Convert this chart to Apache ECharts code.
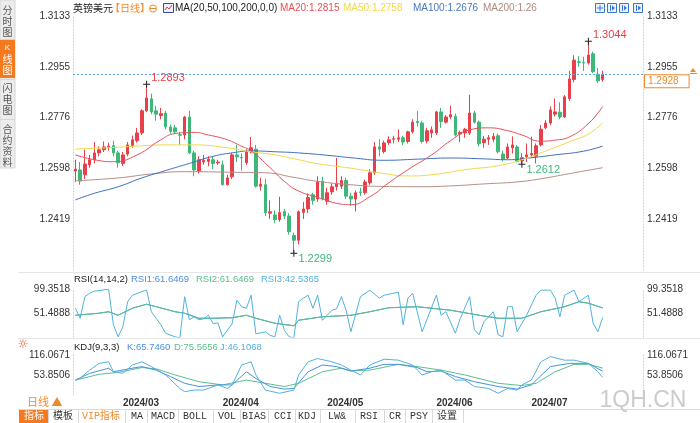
<!DOCTYPE html>
<html>
<head>
<meta charset="utf-8">
<title>英镑美元 日线</title>
<script src="https://cdn.jsdelivr.net/npm/echarts@6.0.0/dist/echarts.min.js"></script>
<style>
  html, body { margin: 0; padding: 0; background: #fff; }
  #main { width: 700px; height: 423px; }
</style>
</head>
<body>
<div id="main"></div>
<script>
// ===== 数据 =====
var dates = [
  '2024/02/16', '2024/02/19', '2024/02/20', '2024/02/21', '2024/02/22', '2024/02/23', '2024/02/26', '2024/02/27', '2024/02/28', '2024/02/29',
  '2024/03/01', '2024/03/04', '2024/03/05', '2024/03/06', '2024/03/07', '2024/03/08', '2024/03/11', '2024/03/12', '2024/03/13', '2024/03/14',
  '2024/03/15', '2024/03/18', '2024/03/19', '2024/03/20', '2024/03/21', '2024/03/22', '2024/03/25', '2024/03/26', '2024/03/27', '2024/03/28',
  '2024/03/29', '2024/04/01', '2024/04/02', '2024/04/03', '2024/04/04', '2024/04/05', '2024/04/08', '2024/04/09', '2024/04/10', '2024/04/11',
  '2024/04/12', '2024/04/15', '2024/04/16', '2024/04/17', '2024/04/18', '2024/04/19', '2024/04/22', '2024/04/23', '2024/04/24', '2024/04/25',
  '2024/04/26', '2024/04/29', '2024/04/30', '2024/05/01', '2024/05/02', '2024/05/03', '2024/05/06', '2024/05/07', '2024/05/08', '2024/05/09',
  '2024/05/10', '2024/05/13', '2024/05/14', '2024/05/15', '2024/05/16', '2024/05/17', '2024/05/20', '2024/05/21', '2024/05/22', '2024/05/23',
  '2024/05/24', '2024/05/27', '2024/05/28', '2024/05/29', '2024/05/30', '2024/05/31', '2024/06/03', '2024/06/04', '2024/06/05', '2024/06/06',
  '2024/06/07', '2024/06/10', '2024/06/11', '2024/06/12', '2024/06/13', '2024/06/14', '2024/06/17', '2024/06/18', '2024/06/19', '2024/06/20',
  '2024/06/21', '2024/06/24', '2024/06/25', '2024/06/26', '2024/06/27', '2024/06/28', '2024/07/01', '2024/07/02', '2024/07/03', '2024/07/04',
  '2024/07/05', '2024/07/08', '2024/07/09', '2024/07/10', '2024/07/11', '2024/07/12', '2024/07/15', '2024/07/16', '2024/07/17', '2024/07/18',
  '2024/07/19', '2024/07/22'
];
// 右侧留白
var padSlots = ['p1', 'p2', 'p3', 'p4', 'p5', 'p6', 'p7', 'p8'];
var monthStarts = ['2024/03/01', '2024/04/01', '2024/05/01', '2024/06/03', '2024/07/01'];

// [开, 收, 低, 高]
var ohlc = [
  [1.2588, 1.2595, 1.2550, 1.2628], [1.2592, 1.2553, 1.2540, 1.2620], [1.2575, 1.2613, 1.2560, 1.2663], [1.2610, 1.2628, 1.2600, 1.2645],
  [1.2628, 1.2652, 1.2615, 1.2690], [1.2652, 1.2663, 1.2640, 1.2675], [1.2663, 1.2673, 1.2655, 1.2692], [1.2672, 1.2675, 1.2660, 1.2688],
  [1.2677, 1.2652, 1.2640, 1.2695], [1.2652, 1.2617, 1.2600, 1.2660], [1.2615, 1.2645, 1.2605, 1.2655], [1.2648, 1.2680, 1.2640, 1.2690],
  [1.2678, 1.2698, 1.2670, 1.2713], [1.2695, 1.2722, 1.2688, 1.2740], [1.2722, 1.2800, 1.2715, 1.2805], [1.2800, 1.2845, 1.2795, 1.2893],
  [1.2842, 1.2796, 1.2788, 1.2860], [1.2800, 1.2788, 1.2765, 1.2818], [1.2783, 1.2790, 1.2770, 1.2810], [1.2792, 1.2743, 1.2735, 1.2800],
  [1.2743, 1.2728, 1.2720, 1.2752], [1.2740, 1.2726, 1.2718, 1.2750], [1.2716, 1.2714, 1.2680, 1.2726], [1.2715, 1.2778, 1.2700, 1.2782],
  [1.2778, 1.2652, 1.2648, 1.2800], [1.2652, 1.2592, 1.2570, 1.2660], [1.2588, 1.2628, 1.2580, 1.2640], [1.2620, 1.2626, 1.2610, 1.2645],
  [1.2622, 1.2630, 1.2605, 1.2640], [1.2628, 1.2615, 1.2595, 1.2640], [1.2617, 1.2620, 1.2610, 1.2628], [1.2610, 1.2540, 1.2538, 1.2625],
  [1.2540, 1.2564, 1.2538, 1.2575], [1.2568, 1.2645, 1.2560, 1.2652], [1.2645, 1.2638, 1.2620, 1.2680], [1.2636, 1.2634, 1.2590, 1.2650],
  [1.2617, 1.2655, 1.2610, 1.2665], [1.2655, 1.2670, 1.2650, 1.2708], [1.2665, 1.2535, 1.2530, 1.2680], [1.2535, 1.2542, 1.2520, 1.2565],
  [1.2540, 1.2442, 1.2430, 1.2560], [1.2440, 1.2445, 1.2420, 1.2485], [1.2434, 1.2418, 1.2405, 1.2450], [1.2418, 1.2442, 1.2410, 1.2498],
  [1.2446, 1.2430, 1.2420, 1.2455], [1.2430, 1.2375, 1.2365, 1.2440], [1.2362, 1.2345, 1.2299, 1.2372], [1.2345, 1.2445, 1.2330, 1.2450],
  [1.2443, 1.2455, 1.2420, 1.2480], [1.2455, 1.2495, 1.2440, 1.2510], [1.2505, 1.2485, 1.2470, 1.2512], [1.2490, 1.2550, 1.2480, 1.2570],
  [1.2552, 1.2490, 1.2485, 1.2568], [1.2482, 1.2512, 1.2470, 1.2530], [1.2515, 1.2533, 1.2505, 1.2545], [1.2533, 1.2545, 1.2520, 1.2634],
  [1.2535, 1.2555, 1.2525, 1.2570], [1.2555, 1.2500, 1.2490, 1.2565], [1.2500, 1.2490, 1.2465, 1.2512], [1.2490, 1.2512, 1.2446, 1.2520],
  [1.2515, 1.2513, 1.2500, 1.2530], [1.2512, 1.2550, 1.2505, 1.2558], [1.2547, 1.2582, 1.2540, 1.2595], [1.2582, 1.2673, 1.2575, 1.2690],
  [1.2673, 1.2665, 1.2640, 1.2700], [1.2657, 1.2687, 1.2650, 1.2695], [1.2688, 1.2698, 1.2680, 1.2710], [1.2700, 1.2702, 1.2685, 1.2712],
  [1.2700, 1.2705, 1.2690, 1.2735], [1.2705, 1.2690, 1.2680, 1.2712], [1.2692, 1.2726, 1.2685, 1.2730], [1.2726, 1.2760, 1.2720, 1.2770],
  [1.2762, 1.2758, 1.2745, 1.2800], [1.2757, 1.2692, 1.2685, 1.2765], [1.2694, 1.2730, 1.2685, 1.2740], [1.2722, 1.2733, 1.2705, 1.2745],
  [1.2722, 1.2796, 1.2715, 1.2800], [1.2796, 1.2762, 1.2740, 1.2810], [1.2760, 1.2778, 1.2755, 1.2785], [1.2778, 1.2786, 1.2770, 1.2818],
  [1.2780, 1.2715, 1.2710, 1.2790], [1.2718, 1.2724, 1.2690, 1.2730], [1.2722, 1.2735, 1.2705, 1.2740], [1.2722, 1.2792, 1.2715, 1.2856],
  [1.2792, 1.2760, 1.2755, 1.2800], [1.2760, 1.2684, 1.2675, 1.2765], [1.2688, 1.2700, 1.2670, 1.2712], [1.2700, 1.2705, 1.2680, 1.2715],
  [1.2700, 1.2710, 1.2690, 1.2722], [1.2712, 1.2656, 1.2650, 1.2720], [1.2648, 1.2630, 1.2622, 1.2660], [1.2634, 1.2673, 1.2630, 1.2685],
  [1.2670, 1.2680, 1.2650, 1.2710], [1.2673, 1.2622, 1.2618, 1.2680], [1.2624, 1.2635, 1.2612, 1.2650], [1.2638, 1.2645, 1.2620, 1.2685],
  [1.2645, 1.2650, 1.2635, 1.2709], [1.2640, 1.2677, 1.2615, 1.2685], [1.2680, 1.2735, 1.2675, 1.2750], [1.2740, 1.2757, 1.2735, 1.2767],
  [1.2757, 1.2803, 1.2750, 1.2815], [1.2788, 1.2796, 1.2780, 1.2843], [1.2795, 1.2778, 1.2770, 1.2830], [1.2778, 1.2849, 1.2775, 1.2855],
  [1.2843, 1.2912, 1.2835, 1.2940], [1.2910, 1.2978, 1.2900, 1.2995], [1.2972, 1.2970, 1.2955, 1.2992], [1.2970, 1.2968, 1.2940, 1.2990],
  [1.2968, 1.2996, 1.2962, 1.3044], [1.3000, 1.2937, 1.2932, 1.3008], [1.2928, 1.2905, 1.2898, 1.2950], [1.2910, 1.2928, 1.2902, 1.2941]
];

// 均线 [序号, 值]
var ma20 = [[0, 1.2645], [4, 1.2628], [8, 1.2621], [13, 1.2645], [18, 1.2698], [21, 1.2720], [25, 1.2724], [28, 1.2715], [32, 1.2698],
  [35, 1.2675], [37, 1.2659], [41, 1.2600], [44, 1.2552], [47, 1.2518], [51, 1.2496], [55, 1.2475], [58, 1.2470], [62, 1.2498],
  [66, 1.2547], [70, 1.2593], [75, 1.2645], [79, 1.2695], [83, 1.2733], [87, 1.2740], [91, 1.2730], [94, 1.2715], [98, 1.2693],
  [101, 1.2697], [104, 1.2708], [108, 1.2755], [111, 1.2815]];
var ma50 = [[0, 1.2666], [7, 1.2670], [14, 1.2677], [19, 1.2680], [25, 1.2680], [32, 1.2670], [37, 1.2656], [42, 1.2645], [47, 1.2628],
  [51, 1.2614], [56, 1.2603], [60, 1.2593], [64, 1.2582], [70, 1.2571], [75, 1.2575], [82, 1.2593], [89, 1.2607], [94, 1.2628],
  [98, 1.2652], [104, 1.2691], [108, 1.2718], [111, 1.2758]];
var ma100 = [[0, 1.2487], [4, 1.2510], [9, 1.2533], [14, 1.2564], [19, 1.2590], [24, 1.2615], [29, 1.2640], [33, 1.2652], [37, 1.2659],
  [42, 1.2656], [47, 1.2652], [54, 1.2642], [58, 1.2635], [65, 1.2626], [72, 1.2630], [79, 1.2634], [86, 1.2631], [91, 1.2628],
  [96, 1.2635], [101, 1.2645], [107, 1.2658], [111, 1.2676]];
var ma200 = [[0, 1.2554], [9, 1.2564], [16, 1.2578], [23, 1.2586], [33, 1.2584], [40, 1.2582], [46, 1.2566], [51, 1.2552], [58, 1.2540],
  [65, 1.2534], [72, 1.2533], [79, 1.2536], [86, 1.2543], [93, 1.2550], [98, 1.2561], [103, 1.2576], [107, 1.2588], [111, 1.2600]];

// RSI(14,14,2)
var rsi14 = [[0, 47], [5, 51], [7, 54], [9, 47], [12, 61], [15, 69], [17, 64], [21, 54], [23, 51], [26, 41], [29, 41], [33, 42],
  [36, 47], [38, 41], [42, 31], [46, 26], [47, 37], [52, 44], [58, 47], [62, 54], [66, 62], [72, 64], [79, 57], [85, 47], [89, 41],
  [94, 41], [98, 54], [103, 64], [106, 74], [108, 71], [111, 61.6469]];
var rsi2 = [[0, 61], [1, 41], [2, 84], [3, 91], [4, 95], [7, 99], [8, 28], [9, 4], [10, 24], [11, 74], [12, 87], [14, 94], [15, 97],
  [16, 54], [17, 41], [18, 28], [19, 11], [21, 4], [22, 2], [23, 84], [24, 38], [25, 44], [26, 38], [27, 40], [28, 47], [29, 30],
  [30, 32], [31, 4], [33, 30], [34, 77], [35, 64], [36, 61], [37, 87], [38, 10], [40, 14], [41, 7], [42, 4], [43, 47], [44, 17],
  [45, 4], [46, 2], [47, 74], [48, 81], [49, 87], [50, 61], [51, 87], [52, 37], [54, 57], [55, 60], [56, 84], [57, 57], [58, 14],
  [60, 84], [62, 97], [64, 81], [65, 87], [68, 93], [69, 28], [70, 81], [71, 91], [73, 14], [76, 87], [77, 47], [78, 54], [80, 11],
  [81, 40], [83, 84], [84, 18], [85, 8], [86, 34], [88, 54], [89, 8], [90, 4], [91, 64], [92, 64], [93, 14], [95, 47], [97, 87],
  [98, 97], [100, 97], [101, 81], [102, 44], [103, 87], [105, 97], [106, 74], [108, 87], [109, 31], [110, 14], [111, 42.5365]];

// KDJ(9,3,3)
var kdjK = [[0, 38], [3, 59], [7, 75], [8, 64], [12, 75], [14, 80], [17, 69], [20, 49], [23, 28], [26, 18], [30, 23], [33, 23],
  [36, 64], [38, 43], [41, 18], [44, 10], [46, 12], [49, 64], [52, 85], [55, 80], [58, 66], [62, 75], [65, 87], [68, 87], [72, 77],
  [74, 64], [77, 66], [80, 49], [84, 33], [89, 18], [93, 10], [96, 23], [100, 80], [104, 90], [108, 90], [111, 65.746]];
var kdjD = [[0, 38], [5, 56], [9, 62], [14, 77], [17, 73], [21, 54], [26, 33], [31, 23], [36, 38], [40, 28], [44, 18], [47, 28],
  [52, 64], [56, 75], [58, 67], [62, 69], [68, 87], [72, 80], [77, 69], [82, 54], [89, 28], [94, 21], [97, 28], [101, 64], [105, 87],
  [108, 87], [111, 75.5656]];
var kdjJ = [[0, 38], [1, 44], [3, 69], [5, 90], [7, 95], [8, 64], [10, 59], [12, 85], [14, 95], [16, 80], [19, 54], [22, 12], [23, 2],
  [25, 7], [27, 7], [30, 23], [32, 12], [33, 23], [35, 85], [37, 95], [38, 54], [40, 7], [43, -3], [46, 7], [47, 54], [49, 95],
  [51, 105], [54, 95], [56, 85], [58, 69], [60, 54], [62, 85], [65, 103], [68, 100], [71, 85], [73, 54], [75, 64], [77, 69], [80, 38],
  [82, 38], [84, 18], [87, 12], [89, -3], [91, 12], [93, 7], [94, 23], [96, 38], [98, 95], [100, 111], [103, 100], [105, 100],
  [108, 90], [110, 64], [111, 46.1068]];

// 坐标刻度
var priceTicks = ['', '1.2419', '1.2598', '1.2776', '1.2955', '1.3133'];
var rsiTicks = ['', '51.4888', '99.3518'];
var kdjTicks = ['', '53.8506', '116.0671'];
var lastPrice = 1.2928;
// 最高/最低点 [序号, 价格]
var extremes = [[15, 1.2893], [46, 1.2299], [94, 1.2612], [108, 1.3044]];

// ===== 样式 =====
var FONT = '"Liberation Sans", Arial, "Noto Sans CJK SC", sans-serif';
var MONO = '"Liberation Mono", "Noto Sans CJK SC", monospace';
var UP = '#e8404b', DOWN = '#3db878';
var C_MA20 = '#e8505a', C_MA50 = '#f2d84a', C_MA100 = '#3f6fbe', C_MA200 = '#b78d84';
var C_R1 = '#4a90e2', C_R2 = '#5cc08c', C_R3 = '#4fb2de';
var ORANGE = '#f0892b';

(function () {
  var myChart = echarts.init(document.getElementById('main'));
  var cats = dates.concat(padSlots);

  function txt(x, y, s, color, size, extra) {
    var style = { x: x, y: y, text: s, fill: color, fontSize: size || 10, fontFamily: FONT, verticalAlign: 'middle' };
    for (var k in extra) style[k] = extra[k];
    return { type: 'text', silent: true, z: 10, style: style };
  }
  function hline(x1, x2, y, color) {
    return { type: 'line', silent: true, shape: { x1: x1, y1: y + 0.5, x2: x2, y2: y + 0.5 }, style: { stroke: color, lineWidth: 1 } };
  }
  function vline(x, y1, y2, color) {
    return { type: 'line', silent: true, shape: { x1: x + 0.5, y1: y1, x2: x + 0.5, y2: y2 }, style: { stroke: color, lineWidth: 1 } };
  }

  function xAxisFor(gi, showLabel) {
    return {
      type: 'category', gridIndex: gi, data: cats, boundaryGap: true,
      axisLine: { show: false }, axisTick: { show: false }, splitLine: { show: false },
      axisLabel: {
        show: showLabel, margin: 3, align: 'left',
        color: '#333', fontSize: 10, fontWeight: 'bold', fontFamily: FONT,
        interval: function (index, value) { return monthStarts.indexOf(value) >= 0; },
        formatter: function (value) { return value.slice(0, 7); }
      }
    };
  }
  function yAxisFor(gi, pos, min, interval, count, ticks) {
    return {
      type: 'value', gridIndex: gi, position: pos, scale: true,
      min: min, max: min + interval * count, interval: interval,
      axisLine: { show: true, lineStyle: { color: '#d0d0d0', type: [1, 2] } },
      axisTick: { show: false }, splitLine: { show: false },
      axisLabel: {
        color: '#333', fontSize: 10, fontFamily: FONT, margin: pos === 'left' ? 3 : 4,
        formatter: function (v, i) { return ticks[i] || ''; }
      }
    };
  }
  function maLine(name, data, color) {
    return {
      name: name, type: 'line', xAxisIndex: 0, yAxisIndex: 0, data: data,
      smooth: true, showSymbol: false, connectNulls: true, silent: true,
      lineStyle: { color: color, width: 1 }
    };
  }
  function subLine(name, data, color, axis) {
    return {
      name: name, type: 'line', xAxisIndex: axis, yAxisIndex: axis * 2, data: data,
      showSymbol: false, silent: true, lineStyle: { color: color, width: 1 }
    };
  }

  var markData = extremes.map(function (e) {
    var isHigh = ohlc[e[0]][3] === e[1];
    return {
      coord: [e[0], e[1]],
      label: {
        show: true, position: 'right', distance: 1, offset: [0, isHigh ? -6 : 6],
        formatter: e[1].toFixed(4), color: isHigh ? UP : DOWN, fontSize: 11, fontFamily: FONT
      }
    };
  });

  // 左侧竖排标签
  var side = [
    { type: 'rect', silent: true, shape: { x: 0, y: 0, width: 15, height: 168 }, style: { fill: '#ececec', stroke: '#d6d6d6' } },
    { type: 'rect', silent: true, shape: { x: 0, y: 40, width: 15, height: 38 }, style: { fill: '#f47a20' } },
    hline(0, 15, 39, '#d6d6d6'), hline(0, 15, 79, '#d6d6d6'), hline(0, 15, 119, '#d6d6d6'),
    txt(7.5, 21, '分\n时\n图', '#555', 10, { align: 'center', lineHeight: 11, fontFamily: '"Noto Sans CJK SC"' }),
    txt(7.5, 48, 'K', '#fff', 8, { align: 'center' }),
    txt(7.5, 65, '线\n图', '#fff', 10, { align: 'center', lineHeight: 11, fontFamily: '"Noto Sans CJK SC"' }),
    txt(7.5, 99, '闪\n电\n图', '#555', 10, { align: 'center', lineHeight: 11, fontFamily: '"Noto Sans CJK SC"' }),
    txt(7.5, 146, '合\n约\n资\n料', '#555', 10, { align: 'center', lineHeight: 11, fontFamily: '"Noto Sans CJK SC"' })
  ];

  // 顶部标题与均线图例
  var head = [
    txt(73, 8, '英镑美元', '#222', 10, { fontFamily: '"Noto Sans CJK SC"' }),
    txt(110, 8, '【日线】', ORANGE, 10, { fontFamily: '"Noto Sans CJK SC"' }),
    { type: 'circle', silent: true, shape: { cx: 153, cy: 8.5, r: 3.5 }, style: { fill: '#fff', stroke: ORANGE, lineWidth: 1 } },
    hline(150, 156, 8, ORANGE),
    { type: 'rect', silent: true, shape: { x: 163.5, y: 3.5, width: 10, height: 9 }, style: { fill: '#eef0ff', stroke: '#3b4aa8' } },
    { type: 'polyline', silent: true, shape: { points: [[165, 10], [167, 7], [169, 9], [172, 5]] }, style: { stroke: '#e8404b', fill: null } },
    txt(175, 8, 'MA(20,50,100,200,0,0)', '#222', 10),
    txt(280, 8, 'MA20:1.2815', C_MA20, 10),
    txt(343, 8, 'MA50:1.2758', C_MA50, 10),
    txt(413, 8, 'MA100:1.2676', '#4a78c0', 10),
    txt(483, 8, 'MA200:1.26', '#b08a7e', 10)
  ];
  // 右上角工具按钮
  [595, 607, 619, 633].forEach(function (x, i) {
    head.push({ type: 'rect', silent: true, shape: { x: x + 0.5, y: 3.5, width: 9, height: 9 }, style: { fill: '#eaf2fc', stroke: '#3a78d0' } });
    if (i === 0) {
      head.push(hline(x + 2, x + 8, 7.5, '#3a78d0'), vline(x + 4.5, 5, 11, '#3a78d0'));
    } else {
      head.push(vline(x + 3, 5, 11, '#3a78d0'));
      head.push({ type: 'polygon', silent: true, shape: { points: [[x + 5, 5.5], [x + 8, 8], [x + 5, 10.5]] }, style: { fill: '#3a78d0' } });
    }
  });
  head.push({ type: 'polygon', silent: true, shape: { points: [[690, 72], [693, 68], [696, 72]] }, style: { fill: ORANGE } });
  head.push(hline(690, 697, 73, ORANGE));

  // 副图图例
  var subs = [
    hline(18, 700, 272, '#e6e6e6'), hline(18, 700, 338, '#e6e6e6'),
    txt(74, 279, 'RSI(14,14,2)', '#222', 9.5),
    txt(131, 279, 'RSI1:61.6469', C_R1, 9.5),
    txt(196, 279, 'RSI2:61.6469', C_R2, 9.5),
    txt(261, 279, 'RSI3:42.5365', C_R3, 9.5),
    txt(23, 345, '☼', '#e8541c', 12, { align: 'center', fontFamily: '"DejaVu Sans"' }),
    txt(74, 347, 'KDJ(9,3,3)', '#222', 9.5),
    txt(127, 347, 'K:65.7460', C_R1, 9.5),
    txt(174, 347, 'D:75.5656', C_R2, 9.5),
    txt(220, 347, 'J:46.1068', C_R3, 9.5),
    txt(27, 402, '日线 ▲', ORANGE, 11, { fontFamily: '"Noto Sans CJK SC"' }),
    txt(643, 401, '1QH.CN', '#cccccc', 23, { align: 'center' })
  ];

  // 底部指标栏
  var tools = [
    ['指标', 34], ['模板', 63], ['VIP指标', 101], ['MA', 137], ['MACD', 163], ['BOLL', 195], ['VOL', 227], ['BIAS', 254],
    ['CCI', 283], ['KDJ', 307], ['LW&', 337], ['RSI', 369], ['CR', 395], ['PSY', 419], ['设置', 447]
  ];
  var seps = [48, 78, 125, 147, 178, 213, 240, 268, 295, 320, 355, 384, 405, 432, 463];
  var bar = [
    hline(18, 700, 409, '#d9d9d9'),
    { type: 'rect', silent: true, shape: { x: 19, y: 410, width: 29, height: 13 }, style: { fill: '#f47a20' } }
  ];
  seps.forEach(function (x) { bar.push(vline(x, 410, 423, '#d9d9d9')); });
  tools.forEach(function (t, i) {
    var color = i === 0 ? '#fff' : (i === 2 ? ORANGE : '#333');
    bar.push(txt(t[1], 416.5, t[0], color, 10, { align: 'center', fontFamily: MONO }));
  });

  var option = {
    animation: false,
    backgroundColor: '#fff',
    grid: [
      { left: 73, right: 57, top: 16, height: 254 },
      { left: 73, right: 57, top: 289, height: 48 },
      { left: 73, right: 57, top: 355, height: 40 }
    ],
    xAxis: [xAxisFor(0, false), xAxisFor(1, false), xAxisFor(2, true)],
    yAxis: [
      yAxisFor(0, 'left', 1.22405, 0.01785, 5, priceTicks),
      yAxisFor(0, 'right', 1.22405, 0.01785, 5, priceTicks),
      yAxisFor(1, 'left', 3.6258, 47.863, 2, rsiTicks),
      yAxisFor(1, 'right', 3.6258, 47.863, 2, rsiTicks),
      yAxisFor(2, 'left', -8.3659, 62.2165, 2, kdjTicks),
      yAxisFor(2, 'right', -8.3659, 62.2165, 2, kdjTicks)
    ],
    graphic: side.concat(head, subs, bar),
    series: [
      maLine('MA200', ma200, C_MA200),
      maLine('MA100', ma100, C_MA100),
      maLine('MA50', ma50, C_MA50),
      maLine('MA20', ma20, C_MA20),
      {
        name: '英镑美元', type: 'candlestick', xAxisIndex: 0, yAxisIndex: 0,
        data: ohlc, barWidth: 3, silent: true,
        itemStyle: { color: UP, color0: DOWN, borderColor: UP, borderColor0: DOWN, borderWidth: 1 },
        markPoint: {
          symbol: 'path://M0,3L7,3L7,4L0,4Z M3,0L4,0L4,7L3,7Z',
          symbolSize: [7, 7],
          itemStyle: { color: '#222' },
          data: markData
        },
        markLine: {
          symbol: 'none', silent: true, precision: 4,
          lineStyle: { color: '#5aa7dc', type: [2, 2], width: 1 },
          label: {
            show: true, position: 'end', distance: 2, offset: [0, 7],
            formatter: lastPrice.toFixed(4), color: ORANGE, fontSize: 10, fontFamily: FONT,
            backgroundColor: '#fff', borderColor: ORANGE, borderWidth: 1, padding: [1, 10, 1, 3]
          },
          data: [{ yAxis: lastPrice }]
        }
      },
      subLine('RSI1', rsi14, C_R1, 1),
      subLine('RSI2', rsi14, C_R2, 1),
      subLine('RSI3', rsi2, C_R3, 1),
      subLine('D', kdjD, C_R2, 2),
      subLine('K', kdjK, C_R1, 2),
      subLine('J', kdjJ, C_R3, 2)
    ]
  };

  myChart.setOption(option);
})();
</script>
</body>
</html>
